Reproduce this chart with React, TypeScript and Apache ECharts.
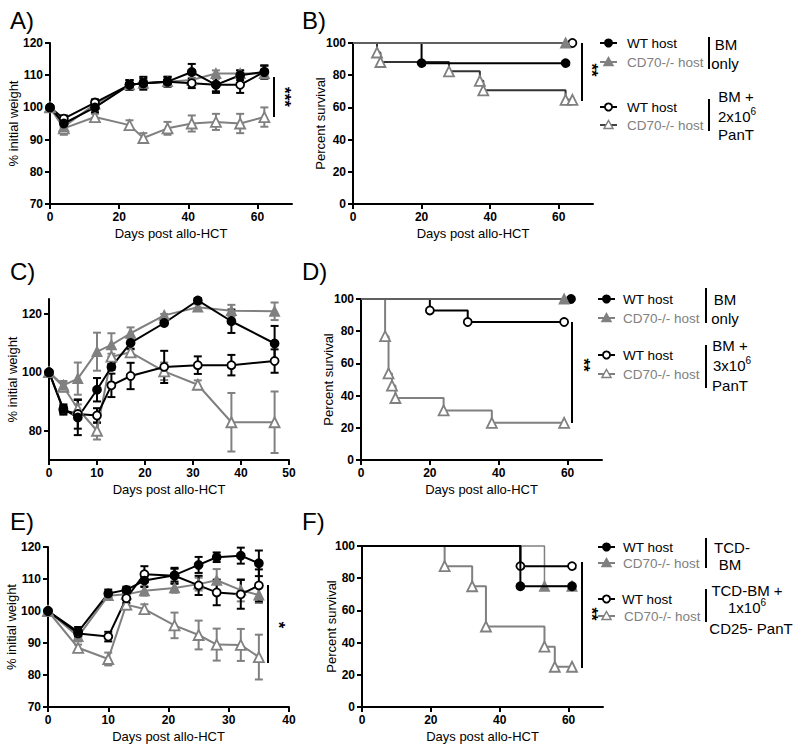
import React, { useEffect, useRef } from "react";
import * as echarts from "echarts";

const BLACK = "#000000";
const GRAY = "#808080";
const FONT = '"Liberation Sans", Arial, sans-serif';

// ---------- Panel A: weight ----------
const daysA = [0, 4, 13, 23, 27, 34, 41, 48, 55, 62];
const aWtBM = [100, 95, 100, 107, 107.5, 108, 111, 107, 110, 111];
const aWtBMErr = [0.5, 1.2, 1.5, 1.5, 1.5, 1.5, 2.5, 2.5, 1.5, 2];
const aKoBM = [100, 94, 101, 107, 107.5, 108, 108.5, 110.5, 110.5, 110.5];
const aKoBMErr = [0.5, 1.5, 1, 1, 1, 1, 1.5, 1, 1, 1.5];
const aWtT = [100, 96.5, 101.5, 107, 107.5, 108, 107.5, 107, 107, 111];
const aWtTErr = [0.5, 1, 1, 1.5, 2, 1.5, 1.5, 2, 2.5, 2];
const aKoT = [100, 93.5, 97, 94.5, 90.5, 93.5, 95, 95.5, 95, 97];
const aKoTErr = [0.5, 2, 1, 1.5, 1.5, 2, 2.5, 2.5, 3, 3];

// ---------- Panel B: survival ----------
const bWtBMt = [0, 20, 62];
const bWtBMs = [100, 87.5, 87.5];
const bKoBMt = [0, 62];
const bKoBMs = [100, 100];
const bWtTt = [0, 64];
const bWtTs = [100, 100];
const bKoTt = [0, 7, 8, 28, 37, 38, 62, 64];
const bKoTs = [100, 94.1, 88.2, 82.4, 76.5, 70.6, 64.7, 64.7];

// ---------- Panel C: weight ----------
const daysC = [0, 3, 6, 10, 13, 17, 24, 31, 38, 47];
const cWtBM = [100, 87.5, 84.5, 94, 101.8, 110, 116.8, 124.5, 117.4, 109.8];
const cWtBMErr = [0.5, 1.5, 6, 4, 1, 2, 0.8, 0.8, 4, 6];
const cKoBM = [100, 95.5, 97.8, 107, 109.3, 113.3, 119.4, 122.2, 121, 120.8];
const cKoBMErr = [0.5, 1.5, 5.5, 6.5, 4, 2, 0.5, 1, 2, 3];
const cWtT = [100, 87, 85.7, 85.2, 95.5, 98.7, 101.8, 102.4, 102.4, 103.8];
const cWtTErr = [0.5, 1.5, 5, 2.5, 4, 4.5, 5.5, 3, 3.5, 4];
const cKoT = [100, 95, 87.5, 80, 105.3, 106.8, 100.3, 95.7, 82.9, 82.9];
const cKoTErr = [0.5, 1.5, 1.5, 3, 1, 1, 3, 1.5, 10, 10.5];

// ---------- Panel D: survival ----------
const dWtBMt = [0, 61];
const dWtBMs = [100, 100];
const dKoBMt = [0, 59];
const dKoBMs = [100, 100];
const dWtTt = [0, 20, 31, 59];
const dWtTs = [100, 92.9, 85.7, 85.7];
const dKoTt = [0, 7, 8, 9, 10, 24, 38, 59];
const dKoTs = [100, 76.9, 53.8, 46.2, 38.5, 30.8, 23.1, 23.1];

// ---------- Panel E: weight ----------
const daysE = [0, 5, 10, 13, 16, 21, 25, 28, 32, 35];
const eWtBM = [100, 93.5, 105.5, 106.6, 109.5, 111.2, 114.4, 116.8, 117.3, 114.9];
const eWtBMErr = [0.5, 1.5, 1.2, 1, 2, 2, 2.5, 1.5, 2.5, 4];
const eKoBM = [100, 92, 104.8, 105.2, 106.3, 107.2, 108.4, 109.6, 106.5, 105];
const eKoBMErr = [0.5, 1.5, 1, 1, 1.5, 1.5, 2, 3.5, 3.5, 2.5];
const eWtT = [100, 93, 92, 104, 111.5, 111, 108, 105.8, 105.2, 108];
const eWtTErr = [0.5, 1, 1.5, 1.5, 2.5, 2.5, 3, 4, 4.5, 5];
const eKoT = [100, 88.5, 85, 102, 100.6, 95.5, 92.5, 89.5, 89.4, 85.6];
const eKoTErr = [0.5, 1, 2, 1.5, 1.5, 4, 4.5, 5, 5, 7];

// ---------- Panel F: survival ----------
const fWtBMt = [0, 46, 61];
const fWtBMs = [100, 75, 75];
const fKoBMt = [0, 53, 61];
const fKoBMs = [100, 75, 75];
const fWtTt = [0, 46, 61];
const fWtTs = [100, 87.5, 87.5];
const fKoTt = [0, 24, 32, 36, 53, 56, 61];
const fKoTs = [100, 87.5, 75, 50, 37.5, 25, 25];

// ---------- axis ticks ----------
const ticksX70 = [0, 20, 40, 60];
const ticksX50 = [0, 10, 20, 30, 40, 50];
const ticksX40 = [0, 10, 20, 30, 40];
const ticksW = [70, 80, 90, 100, 110, 120];
const ticksWC = [80, 100, 120];
const ticksS = [0, 20, 40, 60, 80, 100];

const STY: Record<string, any> = {
  wtBM: { symbol: "circle", size: 8, fill: BLACK, stroke: BLACK },
  koBM: { symbol: "triangle", size: 9, fill: GRAY, stroke: GRAY },
  wtT: { symbol: "circle", size: 8, fill: "#ffffff", stroke: BLACK },
  koT: { symbol: "triangle", size: 10, fill: "#ffffff", stroke: GRAY },
};

function wLine(gi: number, days: number[], vals: number[], kind: string) {
  const st = STY[kind];
  return {
    type: "line",
    xAxisIndex: gi,
    yAxisIndex: gi,
    data: days.map((d, i) => [d, vals[i]]),
    symbol: st.symbol,
    symbolSize: st.size,
    showSymbol: true,
    itemStyle: { color: st.fill, borderColor: st.stroke, borderWidth: 1.8 },
    lineStyle: { color: st.stroke, width: 2 },
    z: 3,
    silent: true,
    clip: false,
  };
}

function wErr(gi: number, days: number[], vals: number[], errs: number[], kind: string) {
  const color = STY[kind].stroke;
  return {
    type: "custom",
    xAxisIndex: gi,
    yAxisIndex: gi,
    data: days.map((d, i) => [d, vals[i] - errs[i], vals[i] + errs[i]]),
    encode: { x: 0, y: [1, 2] },
    z: 2,
    silent: true,
    clip: false,
    renderItem: (_p: any, api: any) => {
      const x = api.value(0);
      const p1 = api.coord([x, api.value(1)]);
      const p2 = api.coord([x, api.value(2)]);
      const w = 4;
      const st = { stroke: color, lineWidth: 2 };
      return {
        type: "group",
        children: [
          { type: "line", shape: { x1: p1[0], y1: p1[1], x2: p2[0], y2: p2[1] }, style: st },
          { type: "line", shape: { x1: p1[0] - w, y1: p1[1], x2: p1[0] + w, y2: p1[1] }, style: st },
          { type: "line", shape: { x1: p2[0] - w, y1: p2[1], x2: p2[0] + w, y2: p2[1] }, style: st },
        ],
      };
    },
  };
}

function km(gi: number, t: number[], s: number[], kind: string, lineColor: string, lw: number, z: number) {
  const st = STY[kind];
  return {
    type: "line",
    xAxisIndex: gi,
    yAxisIndex: gi,
    step: "end",
    data: t.map((x, i) => (i === 0 ? { value: [x, s[i]], symbol: "none" } : [x, s[i]])),
    symbol: st.symbol,
    symbolSize: st.size,
    showSymbol: true,
    itemStyle: { color: st.fill, borderColor: st.stroke, borderWidth: 1.8 },
    lineStyle: { color: lineColor, width: lw },
    z,
    silent: true,
    clip: false,
  };
}

const labelStyle = {
  color: BLACK,
  fontWeight: "bold",
  fontSize: 12,
  fontFamily: FONT,
  margin: 7,
};

function xAx(gi: number, max: number, ticks: number[]) {
  return {
    type: "value",
    gridIndex: gi,
    min: 0,
    max,
    name: "Days post allo-HCT",
    nameLocation: "middle",
    nameGap: 23,
    nameMoveOverlap: false,
    nameTextStyle: { fontFamily: FONT, fontSize: 13, color: BLACK },
    axisLine: { show: true, onZero: false, lineStyle: { color: BLACK, width: 2 } },
    axisTick: { show: true, length: 5, lineStyle: { color: BLACK, width: 2 }, customValues: ticks },
    axisLabel: { ...labelStyle, customValues: ticks },
    splitLine: { show: false },
  };
}

function yAx(gi: number, min: number, max: number, ticks: number[], name: string, gap: number) {
  return {
    type: "value",
    gridIndex: gi,
    min,
    max,
    name,
    nameLocation: "middle",
    nameGap: gap,
    nameMoveOverlap: false,
    nameTextStyle: { fontFamily: FONT, fontSize: 13, color: BLACK },
    axisLine: { show: true, onZero: false, lineStyle: { color: BLACK, width: 2 } },
    axisTick: { show: true, length: 5, lineStyle: { color: BLACK, width: 2 }, customValues: ticks },
    axisLabel: { ...labelStyle, customValues: ticks },
    splitLine: { show: false },
  };
}

// ---------- graphic helpers ----------
function txt(x: number, y: number, text: string, o: any = {}) {
  const align = o.align || "left";
  return {
    type: "text",
    x,
    y,
    rotation: o.rotation || 0,
    silent: true,
    style: {
      text,
      fill: o.color || BLACK,
      fontSize: o.size || 13,
      fontWeight: o.weight || "normal",
      fontFamily: FONT,
      align,
      verticalAlign: "middle",
      textAlign: align,
      textVerticalAlign: "middle",
      rich: o.rich,
    },
  };
}

function ln(x1: number, y1: number, x2: number, y2: number, color = BLACK, w = 2) {
  return { type: "line", silent: true, shape: { x1, y1, x2, y2 }, style: { stroke: color, lineWidth: w } };
}

function marker(cx: number, cy: number, kind: string) {
  const st = STY[kind];
  if (st.symbol === "circle") {
    return {
      type: "circle",
      silent: true,
      shape: { cx, cy, r: 3.6 },
      style: { fill: st.fill, stroke: st.stroke, lineWidth: 1.8 },
    };
  }
  return {
    type: "polygon",
    silent: true,
    shape: { points: [[cx, cy - 4.5], [cx + 4.5, cy + 3.5], [cx - 4.5, cy + 3.5]] },
    style: { fill: st.fill, stroke: st.stroke, lineWidth: 1.5 },
  };
}

function legItem(x: number, y: number, kind: string, label: string, lineColor: string, textX: number) {
  const st = STY[kind];
  return [
    ln(x, y, x + 17, y, lineColor, 2),
    marker(x + 8.5, y, kind),
    txt(textX, y, label, { color: st.stroke === GRAY ? GRAY : BLACK, size: 13.5 }),
  ];
}

const supRich = { sup: { fontSize: 10, fontFamily: FONT, verticalAlign: "top", padding: [0, 0, 9, 0] } };

function star(x: number, y: number, s: string) {
  return txt(x, y, s, { rotation: -Math.PI / 2, size: 17, weight: "bold", align: "center", color: "#000000" });
}

function buildGraphic() {
  const g: any[] = [];
  // panel letters
  g.push(txt(10, 20, "A)", { size: 24 }));
  g.push(txt(302, 20, "B)", { size: 24 }));
  g.push(txt(10, 271, "C)", { size: 24 }));
  g.push(txt(302, 271, "D)", { size: 24 }));
  g.push(txt(10, 521, "E)", { size: 24 }));
  g.push(txt(302, 521, "F)", { size: 24 }));

  // significance markers
  g.push(ln(274, 77, 274, 117));
  g.push(star(284, 97, "***"));
  g.push(ln(582, 43, 582, 101));
  g.push(star(591, 70, "**"));
  g.push(ln(572, 322, 572, 423));
  g.push(star(583, 365, "**"));
  g.push(ln(268, 585, 268, 663));
  g.push(star(278, 625, "*"));
  g.push(ln(582, 562, 582, 668));
  g.push(star(591, 614, "**"));

  // legend B
  g.push(...legItem(600, 43, "wtBM", "WT host", BLACK, 627));
  g.push(...legItem(600, 62, "koBM", "CD70-/- host", GRAY, 627));
  g.push(...legItem(600, 107, "wtT", "WT host", BLACK, 627));
  g.push(...legItem(600, 125, "koT", "CD70-/- host", "#444444", 627));
  g.push(ln(709, 37, 709, 69));
  g.push(ln(709, 99, 709, 131));
  g.push(txt(726, 44, "BM", { size: 15, align: "center" }));
  g.push(txt(725, 63, "only", { size: 15, align: "center" }));
  g.push(txt(736, 96, "BM +", { size: 15, align: "center" }));
  g.push(txt(737, 116, "2x10{sup|6}", { size: 15, align: "center", rich: supRich }));
  g.push(txt(736, 134, "PanT", { size: 15, align: "center" }));

  // legend D
  g.push(...legItem(598, 299, "wtBM", "WT host", BLACK, 623));
  g.push(...legItem(598, 318, "koBM", "CD70-/- host", GRAY, 623));
  g.push(...legItem(598, 355, "wtT", "WT host", BLACK, 623));
  g.push(...legItem(598, 374, "koT", "CD70-/- host", GRAY, 623));
  g.push(ln(706, 288, 706, 323));
  g.push(ln(706, 345, 706, 388));
  g.push(txt(725, 299, "BM", { size: 15, align: "center" }));
  g.push(txt(725, 318, "only", { size: 15, align: "center" }));
  g.push(txt(730, 345, "BM +", { size: 15, align: "center" }));
  g.push(txt(732, 365, "3x10{sup|6}", { size: 15, align: "center", rich: supRich }));
  g.push(txt(730, 385, "PanT", { size: 15, align: "center" }));

  // legend F
  g.push(...legItem(598, 547, "wtBM", "WT host", BLACK, 623));
  g.push(...legItem(598, 563, "koBM", "CD70-/- host", GRAY, 623));
  g.push(...legItem(598, 599, "wtT", "WT host", BLACK, 622));
  g.push(...legItem(598, 616, "koT", "CD70-/- host", GRAY, 624));
  g.push(ln(706, 538, 706, 568));
  g.push(ln(706, 589, 706, 622));
  g.push(txt(732, 547, "TCD-", { size: 15, align: "center" }));
  g.push(txt(730, 564, "BM", { size: 15, align: "center" }));
  g.push(txt(747, 590, "TCD-BM +", { size: 15, align: "center" }));
  g.push(txt(747, 607, "1x10{sup|6}", { size: 15, align: "center", rich: supRich }));
  g.push(txt(751, 628, "CD25- PanT", { size: 15, align: "center" }));
  return g;
}

function buildOption() {
  const grid = [
    { left: 50, top: 43, width: 242, height: 161 },
    { left: 353, top: 43, width: 240, height: 161 },
    { left: 49, top: 299, width: 240, height: 161 },
    { left: 361, top: 299, width: 241, height: 161 },
    { left: 48, top: 547, width: 241, height: 160 },
    { left: 362, top: 546, width: 241, height: 161 },
  ].map((g) => ({ ...g, outerBoundsMode: "none", containLabel: false }));

  const xAxis = [
    xAx(0, 70, ticksX70),
    xAx(1, 70, ticksX70),
    xAx(2, 50, ticksX50),
    xAx(3, 70, ticksX70),
    xAx(4, 40, ticksX40),
    xAx(5, 70, ticksX70),
  ];
  const yAxis = [
    yAx(0, 70, 120, ticksW, "% initial weight", 30),
    yAx(1, 0, 100, ticksS, "Percent survival", 26),
    yAx(2, 70, 125, ticksWC, "% initial weight", 30),
    yAx(3, 0, 100, ticksS, "Percent survival", 26),
    yAx(4, 70, 120, ticksW, "% initial weight", 30),
    yAx(5, 0, 100, ticksS, "Percent survival", 24),
  ];

  const series: any[] = [
    // A
    wErr(0, daysA, aKoT, aKoTErr, "koT"),
    wErr(0, daysA, aKoBM, aKoBMErr, "koBM"),
    wErr(0, daysA, aWtT, aWtTErr, "wtT"),
    wErr(0, daysA, aWtBM, aWtBMErr, "wtBM"),
    wLine(0, daysA, aKoT, "koT"),
    wLine(0, daysA, aKoBM, "koBM"),
    wLine(0, daysA, aWtT, "wtT"),
    wLine(0, daysA, aWtBM, "wtBM"),
    // B
    km(1, bWtTt, bWtTs, "wtT", BLACK, 2, 3),
    km(1, bKoTt, bKoTs, "koT", "#333333", 2, 4),
    km(1, bWtBMt, bWtBMs, "wtBM", BLACK, 2, 5),
    km(1, bKoBMt, bKoBMs, "koBM", GRAY, 1.5, 6),
    // C
    wErr(2, daysC, cKoT, cKoTErr, "koT"),
    wErr(2, daysC, cKoBM, cKoBMErr, "koBM"),
    wErr(2, daysC, cWtT, cWtTErr, "wtT"),
    wErr(2, daysC, cWtBM, cWtBMErr, "wtBM"),
    wLine(2, daysC, cKoT, "koT"),
    wLine(2, daysC, cKoBM, "koBM"),
    wLine(2, daysC, cWtT, "wtT"),
    wLine(2, daysC, cWtBM, "wtBM"),
    // D
    km(3, dKoTt, dKoTs, "koT", GRAY, 2, 3),
    km(3, dWtTt, dWtTs, "wtT", BLACK, 2, 4),
    km(3, dWtBMt, dWtBMs, "wtBM", BLACK, 2, 5),
    km(3, dKoBMt, dKoBMs, "koBM", GRAY, 1.5, 6),
    // E
    wErr(4, daysE, eKoT, eKoTErr, "koT"),
    wErr(4, daysE, eKoBM, eKoBMErr, "koBM"),
    wErr(4, daysE, eWtT, eWtTErr, "wtT"),
    wErr(4, daysE, eWtBM, eWtBMErr, "wtBM"),
    wLine(4, daysE, eKoT, "koT"),
    wLine(4, daysE, eKoBM, "koBM"),
    wLine(4, daysE, eWtT, "wtT"),
    wLine(4, daysE, eWtBM, "wtBM"),
    // F
    km(5, fKoBMt, fKoBMs, "koBM", GRAY, 1.5, 3),
    km(5, fKoTt, fKoTs, "koT", GRAY, 2, 4),
    km(5, fWtTt, fWtTs, "wtT", BLACK, 2, 5),
    km(5, fWtBMt, fWtBMs, "wtBM", BLACK, 2, 6),
  ];

  return {
    animation: false,
    backgroundColor: "#ffffff",
    textStyle: { fontFamily: FONT },
    grid,
    xAxis,
    yAxis,
    series,
    graphic: { elements: buildGraphic() },
  };
}

export default function App() {
  const ref = useRef<HTMLDivElement>(null);
  useEffect(() => {
    if (!ref.current) return;
    const chart = echarts.init(ref.current, undefined, { renderer: "svg", width: 800, height: 751 });
    chart.setOption(buildOption() as any);
    return () => chart.dispose();
  }, []);
  return (
    <div
      ref={ref}
      style={{ position: "absolute", left: 0, top: 0, width: 800, height: 751, background: "#fff" }}
    />
  );
}
